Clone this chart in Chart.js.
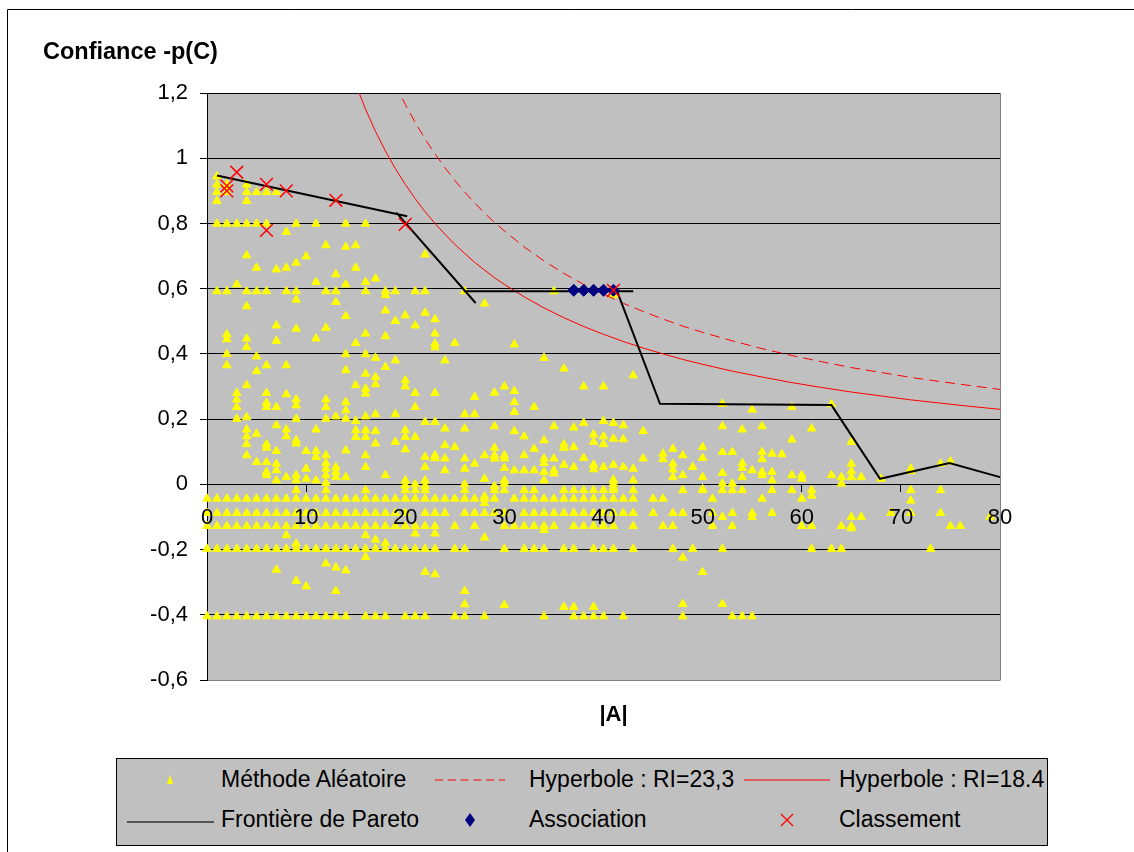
<!DOCTYPE html>
<html>
<head>
<meta charset="utf-8">
<script src="https://cdn.jsdelivr.net/npm/chart.js@4.4.1/dist/chart.umd.min.js"></script>
<style>
html,body{margin:0;padding:0;background:#fff;}
#wrap{position:relative;width:1134px;height:852px;overflow:hidden;}
#c{position:absolute;left:0;top:0;}
#legend{position:absolute;left:116px;top:758px;width:932px;height:88px;box-sizing:border-box;border:1px solid #000;background:#c0c0c0;font-family:"Liberation Sans",Arial,sans-serif;font-size:23px;color:#000;}
#legend .txt{position:absolute;line-height:26px;white-space:nowrap;}
#legend svg{position:absolute;overflow:visible;}
</style>
</head>
<body>
<div id="wrap">
<canvas id="c" width="1134" height="852"></canvas>
<div id="legend"></div>
</div>
<script>
// ---------- data ----------
const yAxisTitle = 'Confiance -p(C)';
const xAxisTitle = '|A|';
const yTickValues = [-0.6, -0.4, -0.2, 0, 0.2, 0.4, 0.6, 0.8, 1, 1.2];
const yTickLabels = ['-0,6', '-0,4', '-0,2', '0', '0,2', '0,4', '0,6', '0,8', '1', '1,2'];
const seriesLabels = ['Méthode Aléatoire', 'Hyperbole : RI=23,3', 'Hyperbole : RI=18.4', 'Frontière de Pareto', 'Association', 'Classement'];

// Méthode Aléatoire : horizontal rows (x values at a common y)
const rowY080 = 0.799;
const rowX080 = [1, 2, 3, 4, 5, 6, 9, 11, 14, 16];
const rowY059 = 0.592;
const rowX059 = [1, 2, 4, 5, 6, 8, 9, 12, 13, 16, 18, 19, 21, 22, 26, 35];
const rowYm002 = -0.018;
const rowXm002 = [9, 12, 16, 20, 21, 22, 26, 29, 30, 32, 33, 36, 37, 38, 39, 40, 41, 43, 48, 50, 52, 53, 54, 57, 59, 61, 71, 74];
const rowYm004 = -0.044;
const rowXm004 = [0, 1, 2, 3, 4, 5, 6, 7, 8, 9, 10, 11, 12, 13, 14, 15, 16, 17, 18, 19, 20, 21, 22, 23, 24, 25, 26, 27, 28, 29, 31, 32, 33, 34, 35, 36, 37, 38, 39, 40, 41, 42, 43, 45, 46, 51, 56, 60];
const rowYm009 = -0.088;
const rowXm009 = [0, 1, 2, 3, 4, 5, 6, 7, 8, 9, 10, 11, 12, 13, 14, 15, 16, 17, 18, 19, 20, 22, 23, 24, 26, 27, 28, 29, 30, 32, 33, 34, 35, 36, 37, 38, 39, 40, 41, 42, 43, 45, 47, 48, 51, 53, 55, 57, 69, 71, 74];
const rowYm013 = -0.128;
const rowXm013 = [0, 1, 2, 3, 4, 5, 6, 7, 8, 9, 10, 11, 12, 13, 14, 15, 16, 17, 18, 19, 20, 21, 22, 23, 25, 27, 30, 31, 32, 33, 34, 35, 37, 38, 39, 40, 41, 43, 46, 47, 51, 53, 60, 61, 64, 65, 75, 76];
const rowYm020 = -0.198;
const rowXm020 = [0, 1, 2, 3, 4, 5, 6, 7, 8, 9, 10, 11, 12, 13, 14, 15, 16, 17, 18, 19, 20, 21, 22, 23, 25, 26, 30, 32, 33, 34, 36, 37, 39, 40, 41, 43, 47, 49, 52, 61, 63, 64, 73];
const rowYm040 = -0.405;
const rowXm040 = [0, 1, 2, 3, 4, 5, 6, 7, 8, 9, 10, 11, 12, 13, 14, 16, 17, 18, 20, 21, 22, 25, 26, 28, 34, 37, 38, 39, 40, 42, 48, 53, 54, 55];

// Méthode Aléatoire : scattered points [x, y]
const randomScatter = [
  [1,0.944],[1,0.919],[1,0.896],[1,0.869],[2,0.92],[2,0.896],[4,0.919],[4,0.896],[4,0.869],[5,0.896],[6,0.896],[7,0.896],
  [8,0.774],[12,0.733],[14,0.728],[15,0.733],[4,0.702],[10,0.699],[22,0.705],[5,0.664],[7,0.659],[8,0.664],[9,0.679],[15,0.664],
  [13,0.644],[11,0.62],[3,0.613],[14,0.613],[16,0.62],[17,0.631],
  [18,0.58],[9,0.566],[13,0.559],[28,0.554],[4,0.546],[18,0.533],[14,0.516],[20,0.518],[22,0.526],[19,0.501],[21,0.487],[23,0.506],
  [7,0.487],[9,0.477],[12,0.48],[16,0.462],[18,0.454],[2,0.46],[2,0.445],[4,0.447],[11,0.447],[23,0.462],[23,0.431],[15,0.433],
  [7,0.44],[25,0.433],[4,0.421],[23,0.42],[41,0.58],
  [2,0.399],[5,0.392],[2,0.365],[6,0.365],[8,0.365],[5,0.347],[14,0.399],[16,0.399],[17,0.388],[19,0.38],[18,0.36],[14,0.35],
  [16,0.339],[17,0.329],[17,0.307],[15,0.304],[16,0.293],[16,0.278],[20,0.319],[20,0.3],[4,0.304],[3,0.28],[3,0.26],[3,0.237],
  [6,0.28],[8,0.276],[9,0.26],[9,0.242],[6,0.25],[6,0.237],[7,0.237],[12,0.26],[12,0.237],[14,0.252],[14,0.227],[21,0.28],
  [23,0.28],[21,0.237],[27,0.268],[24,0.38],
  [31,0.429],[34,0.388],[36,0.355],[43,0.334],[30,0.3],[29,0.281],[31,0.286],[38,0.3],[40,0.3],[31,0.252],[31,0.222],[33,0.237],
  [52,0.247],[55,0.229],[59,0.237],
  [3,0.201],[4,0.206],[7,0.181],[9,0.201],[12,0.201],[13,0.208],[14,0.201],[16,0.208],[17,0.215],[19,0.215],[22,0.191],[23,0.191],
  [24,0.171],[26,0.215],[27,0.215],[26,0.171],[4,0.168],[4,0.147],[4,0.123],[4,0.089],[5,0.155],[6,0.123],[6,0.112],[7,0.102],
  [8,0.168],[8,0.147],[9,0.135],[9,0.125],[11,0.168],[10,0.102],[11,0.102],[11,0.084],[12,0.089],[12,0.065],[12,0.048],[12,0.028],
  [12,0.004],[13,0.053],[13,0.038],[13,0.022],[14,0.104],[14,0.022],[15,0.194],[15,0.166],[15,0.145],[16,0.166],[16,0.145],[16,0.089],
  [16,0.053],[17,0.163],[17,0.125],[18,0.028],[19,0.13],[20,0.166],[20,0.145],[20,0.107],[21,0.145],[22,0.084],[22,0.053],[23,0.089],
  [23,0.08],[24,0.12],[24,0.079],[24,0.043],[25,0.114],[26,0.079],[26,0.048],[27,0.063],[28,0.089],[28,0.017],[5,0.068],[6,0.068],
  [6,0.038],[6,0.028],[7,0.063],[7,0.043],[7,0.012],[8,0.022],[9,0.028],[9,0.012],[10,0.048],[10,0.017],[11,0.012],[20,0.012],
  [20,-0.003],[21,0.0],[22,0.012],[22,-0.005],[26,0.0],
  [31,0.163],[29,0.178],[35,0.178],[37,0.174],[38,0.188],[40,0.194],[41,0.188],[42,0.181],[44,0.163],[32,0.147],[52,0.178],[54,0.168],
  [56,0.178],[39,0.153],[39,0.13],[40,0.147],[40,0.123],[41,0.14],[42,0.138],[34,0.135],[36,0.123],[36,0.112],[37,0.114],[33,0.109],
  [29,0.112],[29,0.089],[29,0.079],[30,0.089],[30,0.079],[32,0.089],[34,0.079],[34,0.065],[35,0.079],[38,0.081],[44,0.079],[46,0.094],
  [46,0.077],[47,0.109],[48,0.089],[50,0.114],[50,0.081],[52,0.099],[53,0.099],[56,0.099],[56,0.077],[57,0.094],[47,0.063],[47,0.045],
  [47,0.022],[30,0.05],[30,0.012],[30,0.002],[31,0.043],[32,0.043],[33,0.043],[34,0.038],[34,0.012],[35,0.043],[35,0.033],[36,0.06],
  [37,0.053],[39,0.06],[39,0.046],[40,0.053],[41,0.06],[41,0.014],[41,0.002],[41,-0.01],[42,0.053],[43,0.048],[43,0.012],[48,0.028],
  [49,0.053],[50,0.022],[52,0.035],[52,0.002],[53,0.002],[54,0.065],[54,0.05],[54,0.022],[55,0.043],[56,0.038],[56,0.028],[57,0.038],
  [57,0.012],[61,0.171],[59,0.137],[65,0.13],[50,-0.015],[58,0.092],[65,0.063],[65,0.04],[65,0.022],[59,0.028],[60,0.028],[60,0.017],
  [63,0.028],[64,0.022],[64,0.002],[66,0.022],[68,0.017],[71,0.048],[71,0.04],[74,0.063],[75,0.07],[63,0.245],
  [28,-0.037],[28,-0.058],[29,-0.006],[61,-0.035],[71,-0.05],[52,-0.1],[55,-0.1],[65,-0.1],[66,-0.1],[79,-0.1],[65,-0.135],[34,-0.14],
  [8,-0.156],[16,-0.156],[17,-0.17],[21,-0.151],[23,-0.151],[28,-0.163],[9,-0.182],[18,-0.18],
  [16,-0.223],[12,-0.243],[13,-0.255],[14,-0.264],[7,-0.262],[22,-0.269],[23,-0.276],[9,-0.296],[10,-0.313],[13,-0.327],[26,-0.327],
  [26,-0.368],[48,-0.225],[50,-0.269],[30,-0.37],[36,-0.376],[37,-0.376],[39,-0.376],[48,-0.367],[52,-0.367]
];

// Hyperboles
const hyp23X = [19, 20, 21, 22, 23, 24, 25, 26, 27, 28, 29, 30, 32, 34, 36, 38, 40, 42, 44, 46, 48, 50, 53, 56, 59, 62, 65, 68, 71, 74, 77, 80];
const hyp23Y = [1.226, 1.165, 1.11, 1.059, 1.013, 0.971, 0.932, 0.896, 0.863, 0.832, 0.803, 0.777, 0.728, 0.685, 0.647, 0.613, 0.583, 0.555, 0.53, 0.507, 0.485, 0.466, 0.44, 0.416, 0.395, 0.376, 0.358, 0.343, 0.328, 0.315, 0.303, 0.291];
const hyp18X = [15, 16, 17, 18, 19, 20, 21, 22, 23, 24, 25, 26, 27, 28, 29, 30, 32, 34, 36, 38, 40, 42, 44, 46, 48, 50, 53, 56, 59, 62, 65, 68, 71, 74, 77, 80];
const hyp18Y = [1.227, 1.15, 1.082, 1.022, 0.968, 0.92, 0.876, 0.836, 0.8, 0.767, 0.736, 0.708, 0.681, 0.657, 0.634, 0.613, 0.575, 0.541, 0.511, 0.484, 0.46, 0.438, 0.418, 0.4, 0.383, 0.368, 0.347, 0.329, 0.312, 0.297, 0.283, 0.271, 0.259, 0.249, 0.239, 0.23];

// Frontière de Pareto (null = break between segments)
const paretoX = [1, 20.2, null, 19.1, 27.1, null, 25.9, 43, null, 41.3, 45.7, 63, 67.9, 74.9, 80];
const paretoY = [0.947, 0.822, null, 0.833, 0.556, null, 0.592, 0.592, null, 0.598, 0.247, 0.243, 0.017, 0.065, 0.022];

// Association
const assocX = [37, 38, 39, 40, 41];
const assocY = [0.595, 0.595, 0.595, 0.595, 0.595];

// Classement
const classX = [2, 2, 3, 6, 8, 13, 20, 6, 41];
const classY = [0.915, 0.9, 0.957, 0.92, 0.9, 0.871, 0.797, 0.779, 0.595];

// ---------- build ----------
function rowPoints(xs, y) { return xs.map(x => ({x: x, y: y})); }
const randomData = [].concat(
  rowPoints(rowX080, rowY080), rowPoints(rowX059, rowY059), rowPoints(rowXm002, rowYm002),
  rowPoints(rowXm004, rowYm004), rowPoints(rowXm009, rowYm009), rowPoints(rowXm013, rowYm013),
  rowPoints(rowXm020, rowYm020), rowPoints(rowXm040, rowYm040),
  randomScatter.map(p => ({x: p[0], y: p[1]}))
);
function zip(xs, ys) { return xs.map((x, i) => ({x: x, y: ys[i]})); }

const FONT = '"Liberation Sans", Arial, sans-serif';
Chart.defaults.font.family = FONT;
Chart.defaults.color = '#000';

const plotDecor = {
  id: 'plotDecor',
  beforeDraw(chart) {
    const {ctx, chartArea: a} = chart;
    ctx.save();
    ctx.fillStyle = '#fff';
    ctx.fillRect(0, 0, chart.width, chart.height);
    ctx.strokeStyle = '#000';
    ctx.lineWidth = 1;
    ctx.beginPath();
    ctx.moveTo(7.5, chart.height);
    ctx.lineTo(7.5, 9.5);
    ctx.lineTo(chart.width, 9.5);
    ctx.stroke();
    ctx.fillStyle = '#C0C0C0';
    ctx.fillRect(a.left, a.top, a.right - a.left, a.bottom - a.top);
    ctx.restore();
  },
  beforeDatasetsDraw(chart) {
    const {ctx, chartArea: a} = chart;
    ctx.save();
    ctx.strokeStyle = '#808080';
    ctx.lineWidth = 1;
    ctx.beginPath();
    ctx.moveTo(Math.round(a.right) + 0.5, a.top);
    ctx.lineTo(Math.round(a.right) + 0.5, a.bottom + 0.5);
    ctx.stroke();
    ctx.restore();
  },
  afterDraw(chart) {
    const {ctx, chartArea: a} = chart;
    ctx.save();
    ctx.fillStyle = '#000';
    ctx.textBaseline = 'middle';
    ctx.textAlign = 'left';
    ctx.font = 'bold 23.5px ' + FONT;
    ctx.fillText(yAxisTitle, 43, 53);
    ctx.textAlign = 'center';
    ctx.font = 'bold 22px ' + FONT;
    ctx.fillText(xAxisTitle, (a.left + a.right) / 2 + 10, a.bottom + 35);
    ctx.restore();
  }
};

const chart = new Chart(document.getElementById('c'), {
  type: 'scatter',
  data: {
    datasets: [
      { label: seriesLabels[0], data: randomData, pointStyle: 'triangle', pointRadius: 4.9, backgroundColor: '#FFFF00', borderColor: '#FFFF00', borderWidth: 1, clip: false, order: 6 },
      { label: seriesLabels[1], data: zip(hyp23X, hyp23Y), showLine: true, borderColor: '#FF0000', borderWidth: 1, borderDash: [10, 6], pointRadius: 0, order: 5 },
      { label: seriesLabels[2], data: zip(hyp18X, hyp18Y), showLine: true, borderColor: '#FF0000', borderWidth: 1, pointRadius: 0, order: 4 },
      { label: seriesLabels[3], data: zip(paretoX, paretoY), showLine: true, spanGaps: false, borderColor: '#000000', borderWidth: 2, pointRadius: 0, clip: false, order: 3 },
      { label: seriesLabels[4], data: zip(assocX, assocY), pointStyle: 'rectRot', pointRadius: 6, backgroundColor: '#000080', borderColor: '#000080', borderWidth: 1, clip: false, order: 2 },
      { label: seriesLabels[5], data: zip(classX, classY), pointStyle: 'crossRot', pointRadius: 9, backgroundColor: '#FF0000', borderColor: '#FF0000', borderWidth: 1.5, clip: false, order: 1 }
    ]
  },
  options: {
    responsive: false,
    animation: false,
    events: [],
    layout: { padding: { left: 0, right: 134, top: 93, bottom: 172 } },
    plugins: { legend: { display: false }, tooltip: { enabled: false }, title: { display: false } },
    scales: {
      x: {
        type: 'linear',
        position: { y: 0 },
        min: 0, max: 80,
        ticks: { stepSize: 10, font: { size: 22 }, color: '#000', padding: 13, maxRotation: 0, z: 1 },
        grid: { drawOnChartArea: false, drawTicks: true, tickLength: 7, color: '#000', lineWidth: 1 },
        border: { display: true, color: '#000', width: 1 }
      },
      y: {
        type: 'linear',
        position: 'left',
        min: -0.6, max: 1.2,
        afterFit: (s) => { s.width = 207; },
        ticks: {
          stepSize: 0.2, font: { size: 22 }, color: '#000', padding: 12,
          callback: (v) => {
            for (let i = 0; i < yTickValues.length; i++) if (Math.abs(v - yTickValues[i]) < 1e-6) return yTickLabels[i];
            return '';
          }
        },
        grid: {
          color: (c) => (c.tick && Math.abs(c.tick.value + 0.6) < 1e-6) ? '#808080' : '#000',
          tickColor: '#000', lineWidth: 1, tickLength: 7
        },
        border: { display: true, color: '#000', width: 1 }
      }
    }
  },
  plugins: [plotDecor]
});

// ---------- legend (HTML, built from the datasets) ----------
(function buildLegend() {
  const box = document.getElementById('legend');
  const ds = chart.data.datasets;
  const rows = [21, 61];
  const textLeft = [104, 412, 722];
  const symCenter = [53, 353, 670];
  const ns = 'http://www.w3.org/2000/svg';
  function svg(left, top, w, h, inner) {
    const s = document.createElementNS(ns, 'svg');
    s.setAttribute('width', w); s.setAttribute('height', h);
    s.style.left = left + 'px'; s.style.top = top + 'px';
    s.innerHTML = inner;
    box.appendChild(s);
  }
  ds.forEach((d, i) => {
    const r = Math.floor(i / 3), c = i % 3;
    const cy = rows[r], cx = symCenter[c];
    const t = document.createElement('span');
    t.className = 'txt';
    t.textContent = d.label;
    t.style.left = textLeft[c] + 'px';
    t.style.top = (cy - 13 - 1) + 'px';
    box.appendChild(t);
    if (d.pointStyle === 'triangle') {
      svg(cx - 4, cy - 5, 8, 10, '<polygon points="4,0 7,9 1,9" fill="' + d.backgroundColor + '"/>');
    } else if (d.pointStyle === 'rectRot') {
      svg(cx - 5, cy - 7, 10, 14, '<polygon points="5,0 10,7 5,14 0,7" fill="' + d.backgroundColor + '"/>');
    } else if (d.pointStyle === 'crossRot') {
      svg(cx - 7, cy - 7, 14, 14, '<path d="M1,1 L13,13 M13,1 L1,13" stroke="' + d.borderColor + '" stroke-width="1.3" fill="none"/>');
    } else {
      const w = (c === 0) ? 87 : (c === 1 ? 70 : 86);
      const dash = d.borderDash ? ' stroke-dasharray="' + d.borderDash.map(v => v * 0.8).join(',') + '"' : '';
      const col = d.borderColor === '#000000' ? '#303030' : d.borderColor;
      svg(cx - w / 2, cy - 2 + (r === 1 ? 2 : 0), w, 4, '<line x1="0" y1="2" x2="' + w + '" y2="2" stroke="' + col + '" stroke-width="' + (d.borderWidth > 1 ? 1.5 : 1) + '"' + dash + '/>');
    }
  });
})();
</script>
</body>
</html>
